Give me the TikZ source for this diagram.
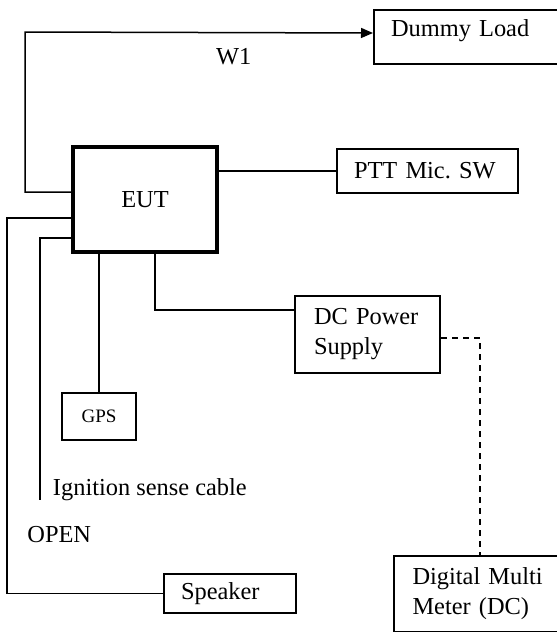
\documentclass[tikz,border=0pt]{standalone}
\usepackage{fontspec}
\setmainfont{Liberation Serif}
\usetikzlibrary{arrows.meta, positioning, calc}
\frenchspacing

\begin{document}
\begin{tikzpicture}[
    x=0.5pt, y=-0.5pt,
    font=\fontsize{12.2}{15}\selectfont,
    unitbox/.style={rectangle, draw, line width=1pt, inner xsep=8.5pt, inner ysep=0pt, align=left},
    wire/.style={line width=0.75pt},
    arrow/.style={wire, -{Triangle[length=6pt, width=5pt]}},
    probe/.style={wire, dash pattern=on 3pt off 2.5pt}
]
\clip (0,0) rectangle (557,632);
\node[unitbox, line width=2pt, minimum width=72pt, minimum height=52.5pt, align=center] (eut) at (145,199.5) {EUT};
\node[unitbox, anchor=north west, text width=98pt, text height=13pt, text depth=14pt] (dummy) at (373,9) {Dummy Load};
\node[unitbox, text width=73.5pt, minimum height=22pt] (ptt) at (427.5,171) {PTT Mic. SW};
\node[unitbox, inner xsep=9.5pt, text width=53.5pt, minimum height=38.5pt] (dc) at (367.5,334.5) {DC Power\\Supply};
\node[unitbox, font=\fontsize{9.5}{11}\selectfont, minimum width=36.75pt, minimum height=23.5pt, align=center] (gps) at (99,416.5) {GPS};
\node[unitbox, inner xsep=9.5pt, anchor=north west, text width=81pt, minimum height=38pt] (digital) at (392.5,555) {Digital Multi\\Meter (DC)};
\node[unitbox, text width=48.75pt, minimum height=19.5pt] (speaker) at (229.75,593.5) {Speaker};
\node[anchor=west, inner sep=0pt] (ign) at (52.6,490) {Ignition sense cable};
\node[anchor=west, inner sep=0pt] (open) at (27,535) {OPEN};
\coordinate (ignend) at (40,500);

\draw[arrow] ([yshift=3.75pt]eut.west) -| (25,32) -- node[pos=0.6, below=4pt] (w1) {W1} ([yshift=2pt]dummy.west);
\draw[wire] (ptt.west -| eut.east) -- (ptt.west);
\draw[wire] ([yshift=-9.25pt]eut.west) -- ++(-64,0) |- (speaker.west);
\draw[wire] ([yshift=-19.25pt]eut.west) -| (ignend);
\draw[wire] (gps.north) -- (gps.north |- eut.south);
\draw[wire] ([xshift=5pt]eut.south) |- ([yshift=12.25pt]dc.west);
\draw[probe] ([yshift=-1.75pt]dc.east) -| ([xshift=43.75pt]digital.north west);
\end{tikzpicture}
\end{document}
